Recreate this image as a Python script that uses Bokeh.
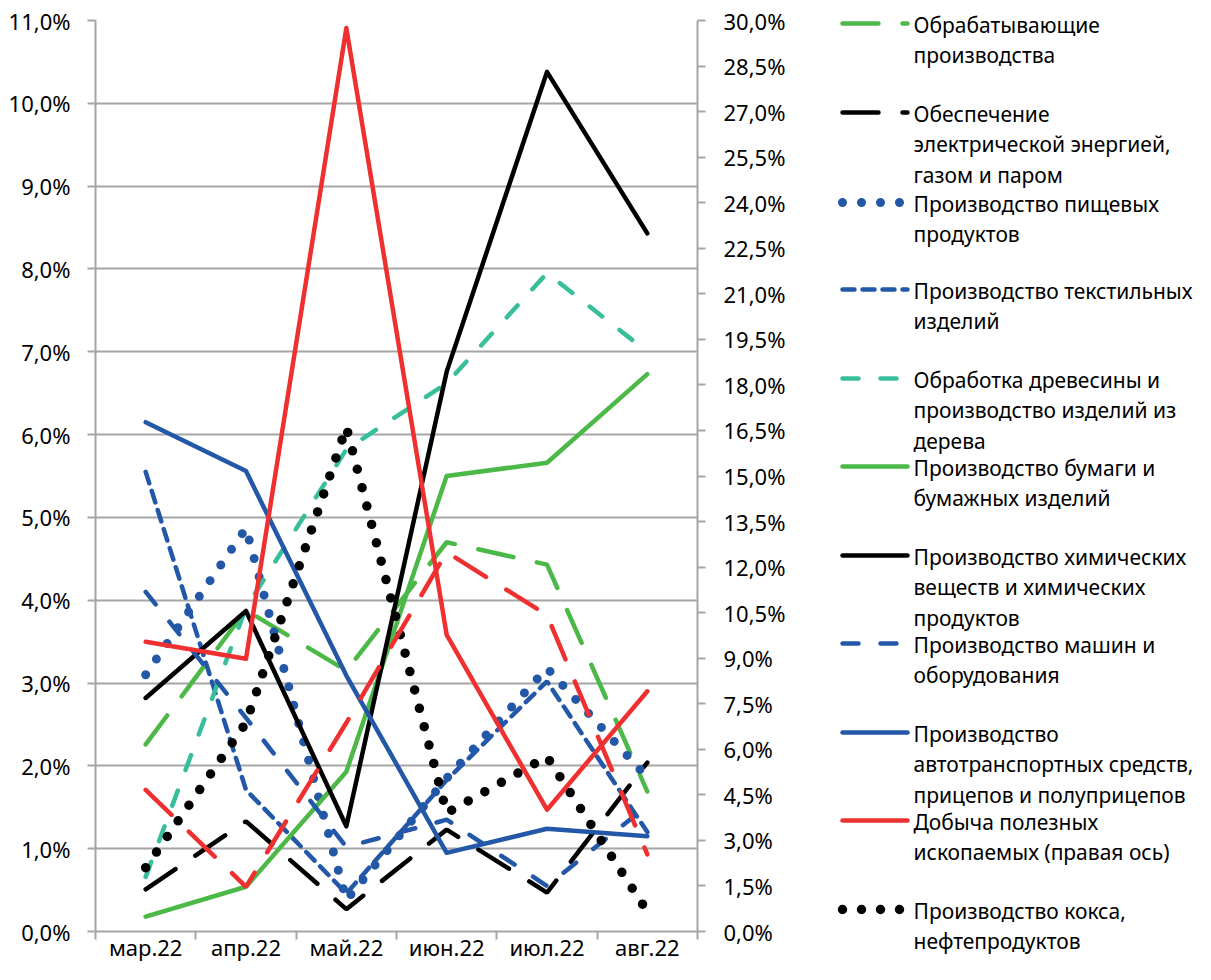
from bokeh.plotting import figure
from bokeh.models import Range1d, LinearAxis, FixedTicker
from bokeh.layouts import row
from bokeh.core.properties import value
from bokeh.embed import file_html
from bokeh.resources import INLINE

# ---------------- data ----------------
months = ["мар.22", "апр.22", "май.22", "июн.22", "июл.22", "авг.22"]
x_pos = [0.5, 1.5, 2.5, 3.5, 4.5, 5.5]

manuf = [2.26, 3.88, 3.15, 4.70, 4.43, 1.69]          # Обрабатывающие производства
electricity = [0.51, 1.33, 0.27, 1.23, 0.47, 2.04]    # Обеспечение электроэнергией
food = [3.10, 4.87, 0.38, 1.85, 3.18, 1.86]           # пищевых продуктов
textile = [5.55, 1.71, 0.46, 1.83, 3.02, 1.20]        # текстильных изделий
wood = [0.66, 3.91, 5.82, 6.62, 7.95, 7.00]           # древесины
paper = [0.18, 0.54, 1.93, 5.50, 5.66, 6.73]          # бумаги
chem = [2.82, 3.87, 1.27, 6.76, 10.38, 8.43]          # химических веществ
machinery = [4.10, 2.58, 1.02, 1.35, 0.55, 1.52]      # машин и оборудования
auto = [6.15, 5.56, 3.09, 0.95, 1.24, 1.15]           # автотранспортных средств
mining_right = [9.54, 8.98, 29.75, 9.77, 4.01, 7.91]  # Добыча (правая ось)
extra_red = [1.71, 0.54, 2.52, 4.58, 3.82, 0.93]      # доп. ряд (красный пунктир)
coke = [0.77, 2.52, 6.09, 1.43, 2.11, 0.24]           # кокса, нефтепродуктов

left_ticks = [0, 1, 2, 3, 4, 5, 6, 7, 8, 9, 10, 11]
left_tick_labels = ["0,0%", "1,0%", "2,0%", "3,0%", "4,0%", "5,0%", "6,0%",
                    "7,0%", "8,0%", "9,0%", "10,0%", "11,0%"]
right_ticks = [0, 1.5, 3, 4.5, 6, 7.5, 9, 10.5, 12, 13.5, 15, 16.5, 18, 19.5,
               21, 22.5, 24, 25.5, 27, 28.5, 30]
right_tick_labels = ["0,0%", "1,5%", "3,0%", "4,5%", "6,0%", "7,5%", "9,0%",
                     "10,5%", "12,0%", "13,5%", "15,0%", "16,5%", "18,0%",
                     "19,5%", "21,0%", "22,5%", "24,0%", "25,5%", "27,0%",
                     "28,5%", "30,0%"]

legend_labels = [
    ["Обрабатывающие", "производства"],
    ["Обеспечение", "электрической энергией,", "газом и паром"],
    ["Производство пищевых", "продуктов"],
    ["Производство текстильных", "изделий"],
    ["Обработка древесины и", "производство изделий из", "дерева"],
    ["Производство бумаги и", "бумажных изделий"],
    ["Производство химических", "веществ и химических", "продуктов"],
    ["Производство машин и", "оборудования"],
    ["Производство", "автотранспортных средств,", "прицепов и полуприцепов"],
    ["Добыча полезных", "ископаемых (правая ось)"],
    ["Производство кокса,", "нефтепродуктов"],
]

# ---------------- styles ----------------
GREEN = "#4CB848"
BLACK = "#000000"
BLUE = "#2357A7"
TEAL = "#38BE9B"
RED = "#EE3030"
GRAY = "#A6A6A6"
FONT = "Noto Sans"

long_dash = dict(line_width=4.5, line_dash="36 24", line_cap="round")
med_dash = dict(line_width=4.5, line_dash="16 22", line_cap="round")
short_dash = dict(line_width=4.5, line_dash="12 8", line_cap="round")
solid = dict(line_width=4.5, line_cap="round", line_join="round")
dot_blue = dict(line_width=9, line_dash="0 19", line_cap="round")
dot_black = dict(line_width=9.5, line_dash="0 19", line_cap="round")

series = [
    (manuf, GREEN, long_dash, "default"),
    (electricity, BLACK, long_dash, "default"),
    (food, BLUE, dot_blue, "default"),
    (textile, BLUE, short_dash, "default"),
    (wood, TEAL, med_dash, "default"),
    (paper, GREEN, solid, "default"),
    (chem, BLACK, solid, "default"),
    (machinery, BLUE, med_dash, "default"),
    (auto, BLUE, solid, "default"),
    (coke, BLACK, dot_black, "default"),
    (extra_red, RED, long_dash, "default"),
    (mining_right, RED, solid, "right"),
]

H = 964
MW = 830
LW = 365


def no_frame_align(fig):
    try:
        fig.frame_align = False
    except Exception:
        pass


# ---------------- main chart ----------------
p = figure(width=MW, height=H, output_backend="svg", toolbar_location=None,
           x_range=Range1d(0, 6), y_range=Range1d(0, 11),
           min_border_left=95, min_border_right=MW - 697, min_border_top=20,
           min_border_bottom=H - 932)
p.outline_line_color = None
p.extra_y_ranges = {"right": Range1d(0, 30)}
no_frame_align(p)

for ys, color, style, rng in series:
    p.line(x_pos, ys, line_color=color, y_range_name=rng, **style)

# x axis: labels at category centres, ticks between categories
xa = p.xaxis[0]
xa.ticker = FixedTicker(ticks=x_pos, minor_ticks=[0, 1, 2, 3, 4, 5, 6])
xa.major_label_overrides = {x: m for x, m in zip(x_pos, months)}
xa.major_tick_line_color = None
xa.major_tick_out = 0
xa.major_tick_in = 0
xa.minor_tick_line_color = GRAY
xa.minor_tick_line_width = 2
xa.minor_tick_out = 8
xa.minor_tick_in = 0
xa.major_label_standoff = -8

# left axis
ya = p.yaxis[0]
ya.ticker = FixedTicker(ticks=left_ticks)
ya.major_label_overrides = {t: l for t, l in zip(left_ticks, left_tick_labels)}
ya.minor_tick_line_color = None
ya.major_tick_out = 8
ya.major_tick_in = 0
ya.major_label_standoff = 17

# right axis
ra = LinearAxis(y_range_name="right", ticker=FixedTicker(ticks=right_ticks))
ra.major_label_overrides = {t: l for t, l in zip(right_ticks, right_tick_labels)}
ra.minor_tick_line_color = None
ra.major_tick_out = 8
ra.major_tick_in = 0
ra.major_label_standoff = 18
p.add_layout(ra, "right")

for ax in [xa, ya, ra]:
    ax.axis_line_color = GRAY
    ax.axis_line_width = 2
    ax.major_label_text_font = FONT
    ax.major_label_text_font_size = "22px"
    ax.major_label_text_color = "#000000"
    if ax is not xa:
        ax.major_tick_line_color = GRAY
        ax.major_tick_line_width = 2

p.xgrid.grid_line_color = None
p.ygrid.grid_line_color = GRAY
p.ygrid.grid_line_width = 2
p.ygrid.ticker = FixedTicker(ticks=left_ticks)

# ---------------- legend panel (pixel coordinates, y downwards) ----------------
leg = figure(width=LW, height=H, output_backend="svg", toolbar_location=None,
             x_range=Range1d(0, LW), y_range=Range1d(H, 0),
             x_axis_type=None, y_axis_type=None, min_border=0)
leg.outline_line_color = None
leg.grid.visible = False
no_frame_align(leg)

legend_series = series[:9] + [series[11], series[9]]
swatch_y = [23, 112, 202, 289, 378, 466, 555, 643, 732, 820, 909]
line_gap = 30.5
for (ys, color, style, rng), y0, lines in zip(legend_series, swatch_y, legend_labels):
    leg.line([12, 77], [y0, y0], line_color=color, **style)
    leg.text([83] * len(lines), [y0 + 1 + i * line_gap for i in range(len(lines))],
             text=lines, text_font=value(FONT), text_font_size="21px",
             text_baseline="middle", text_align="left", text_color="#000000")

layout = row(p, leg)
open("out.html", "w").write(file_html(layout, INLINE))
